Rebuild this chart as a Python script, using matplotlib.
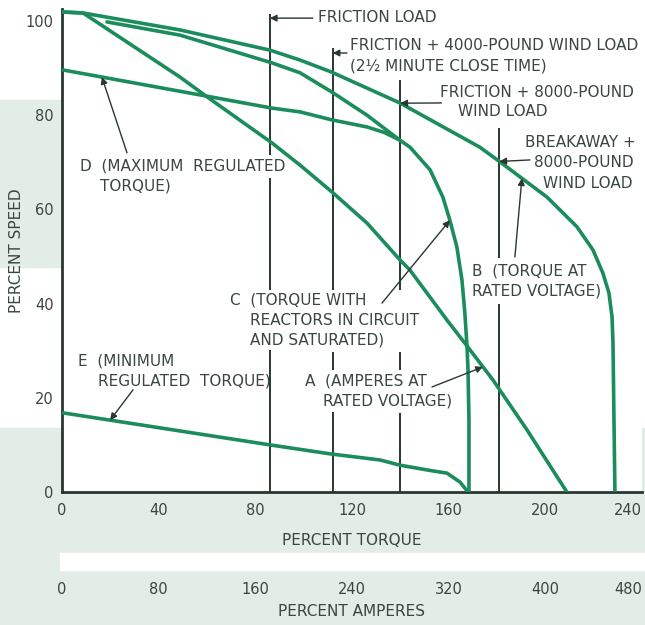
import numpy as np
import matplotlib
matplotlib.use("Agg")
import matplotlib.pyplot as plt
from matplotlib.patches import Rectangle

# speed-torque curves, percent torque vs percent speed
b_torque = [0.4, 8.7, 48.8, 86.1, 98.5, 111.3, 139.8, 172.9, 181.2, 200.7,
            213.1, 219.7, 223.8, 226.3, 227.6, 228.0, 228.4, 228.8]
b_speed = [101.9, 101.7, 98.1, 93.8, 91.7, 89.2, 82.6, 73.2, 70.1, 62.6,
           56.3, 51.4, 46.5, 42.3, 37.2, 31.6, 15.3, 0.0]

c_torque = [18.6, 48.8, 86.9, 98.5, 111.7, 126.2, 139.8, 144.0, 152.3, 157.6, 160.5,
            163.4, 165.5, 166.7, 167.6, 168.0, 168.4, 168.4]
c_speed = [99.8, 97.0, 91.1, 89.0, 84.9, 80.0, 74.7, 73.2, 68.4, 62.6, 57.7,
           52.0, 45.0, 38.0, 30.8, 25.9, 15.3, 0.0]

d_torque = [0.4, 57.1, 86.9, 98.5, 111.7, 126.2, 133.5, 139.8]
d_speed = [89.6, 84.3, 81.5, 80.7, 79.0, 77.5, 76.3, 74.7]

a_torque = [0.4, 8.7, 48.8, 60.0, 86.9, 98.5, 111.7, 126.2, 139.8, 144.0,
            159.3, 167.6, 178.3, 192.4, 208.9]
a_speed = [101.9, 101.7, 88.1, 83.9, 74.1, 69.4, 63.7, 57.1, 49.3, 47.1,
           36.5, 31.0, 23.8, 13.2, 0.0]

e_torque = [0.4, 86.1, 110.9, 131.6, 139.8, 152.0, 159.3, 164.7, 168.0]
e_speed = [16.8, 10.0, 8.1, 6.8, 5.7, 4.6, 4.0, 2.1, 0.0]

# load lines (percent torque)
friction = 86
wind_4000 = 112
wind_8000 = 140
breakaway = 181

torque_ticks = [0, 40, 80, 120, 160, 200, 240]
amp_ticks = [0, 80, 160, 240, 320, 400, 480]
speed_ticks = [0, 20, 40, 60, 80, 100]

green = "#1b8c5b"
dark = "#29372f"
ink = "#3a4640"
tint = "#e3ede7"

fig = plt.figure(figsize=(6.45, 6.25), dpi=100)
fig.patch.set_facecolor("white")

# shaded paper behind the chart
for x0, y0, w, h, c in [(0, 0.573, 0.093, 0.267, tint),
                        (0, 0, 1, 0.315, tint),
                        (0.093, 0.088, 0.907, 0.027, "white")]:
    fig.patches.append(Rectangle((x0, y0), w, h, transform=fig.transFigure,
                                 color=c, zorder=-10))

ax = fig.add_axes([62 / 645, 133 / 625, 580 / 645, 482.8 / 625])
ax.set_facecolor("white")
ax.set_xlim(0, 240)
ax.set_ylim(0, 102.5)

# vertical load lines, broken where the labels sit
load_segments = {
    friction: [(0, 30.1), (42.9, 66.7), (71.5, 101.5)],
    wind_4000: [(0, 17.0), (25.9, 29.7), (42.9, 94.3)],
    wind_8000: [(0, 16.8), (25.9, 29.7), (42.9, 87.5)],
    breakaway: [(0, 39.9), (49.7, 77.3)],
}
for x, segs in load_segments.items():
    for y0, y1 in segs:
        ax.plot([x, x], [y0, y1], color=dark, lw=1.4, solid_capstyle="butt", zorder=2)

for xs, ys in [(b_torque, b_speed), (c_torque, c_speed), (d_torque, d_speed),
               (a_torque, a_speed), (e_torque, e_speed)]:
    ax.plot(xs, ys, color=green, lw=2.6, solid_capstyle="round",
            solid_joinstyle="round", zorder=3)

txt = dict(color=ink, fontsize=11, va="center", zorder=5)
labels = [
    (105.9, 100.8, "FRICTION LOAD", "left"),
    (119.2, 94.7, "FRICTION + 4000-POUND WIND LOAD", "left"),
    (119.2, 90.4, "(2½ MINUTE CLOSE TIME)", "left"),
    (156.4, 84.9, "FRICTION + 8000-POUND", "left"),
    (163.8, 80.7, "WIND LOAD", "left"),
    (237.5, 74.3, "BREAKAWAY +", "right"),
    (236.7, 69.9, "8000-POUND", "right"),
    (236.2, 65.6, "WIND LOAD", "right"),
    (169.6, 46.9, "B  (TORQUE AT", "left"),
    (169.6, 42.7, "RATED VOLTAGE)", "left"),
    (69.5, 40.8, "C  (TORQUE WITH", "left"),
    (77.8, 36.5, "REACTORS IN CIRCUIT", "left"),
    (77.8, 32.3, "AND SATURATED)", "left"),
    (100.5, 23.6, "A  (AMPERES AT", "left"),
    (108.0, 19.3, "RATED VOLTAGE)", "left"),
    (7.4, 69.2, "D  (MAXIMUM  REGULATED", "left"),
    (15.7, 65.0, "TORQUE)", "left"),
    (6.6, 27.8, "E  (MINIMUM", "left"),
    (14.9, 23.6, "REGULATED  TORQUE)", "left"),
]
for x, y, s, ha in labels:
    ax.text(x, y, s, ha=ha, **txt)


def arrow(tail, head):
    ax.annotate("", xy=head, xytext=tail,
                arrowprops=dict(arrowstyle="-|>", color=dark, lw=1.0,
                                mutation_scale=10, shrinkA=0, shrinkB=0),
                zorder=4)


arrow((103.8, 100.6), (friction, 100.6))
arrow((117.9, 93.2), (wind_4000, 93.2))
arrow((157.0, 82.6), (wind_8000, np.interp(wind_8000, b_torque, b_speed)))
arrow((193.6, 70.5), (breakaway, np.interp(breakaway, b_torque, b_speed)))
arrow((187.4, 49.9), (190.3, np.interp(190.3, b_torque, b_speed)))
arrow((132.4, 40.1), (160.5, np.interp(160.5, c_torque, c_speed)))
arrow((153.1, 22.3), (174.2, np.interp(174.2, a_torque, a_speed)))
arrow((26.9, 72.0), (16.5, np.interp(16.5, d_torque, d_speed)))
arrow((29.4, 21.7), (19.9, np.interp(19.9, e_torque, e_speed)))

# axes frame and ticks
for side in ["top", "right"]:
    ax.spines[side].set_visible(False)
for side in ["left", "bottom"]:
    ax.spines[side].set_color(dark)
    ax.spines[side].set_linewidth(2.0)

ax.set_xticks(torque_ticks)
ax.set_xticklabels([str(t) for t in torque_ticks])
ax.set_yticks(speed_ticks)
ax.set_yticklabels([str(t) for t in speed_ticks])
ax.set_xticks(torque_ticks[1:], minor=True)
ax.set_yticks(speed_ticks[1:-1], minor=True)
ax.tick_params(which="major", length=0, labelsize=10.5, labelcolor=ink)
ax.tick_params(axis="x", which="major", pad=8)
ax.tick_params(axis="y", which="major", pad=6)
ax.tick_params(which="minor", direction="in", color=dark, width=1.5)
ax.tick_params(axis="x", which="minor", length=9.5)
ax.tick_params(axis="y", which="minor", length=12)
ax.get_xticklabels()[-1].set_ha("right")

ax.set_xlabel("PERCENT TORQUE", fontsize=11, color=ink, labelpad=11)
ax.set_ylabel("PERCENT SPEED", fontsize=11, color=ink, labelpad=1)

sec = ax.secondary_xaxis(-0.178, functions=(lambda t: t * 2, lambda a: a / 2))
sec.set_xticks(amp_ticks)
sec.set_xticklabels([str(a) for a in amp_ticks])
sec.spines["bottom"].set_visible(False)
sec.tick_params(length=0, labelsize=10.5, labelcolor=ink, pad=3)
sec.get_xticklabels()[-1].set_ha("right")
sec.set_xlabel("PERCENT AMPERES", fontsize=11, color=ink, labelpad=5)

fig.savefig("out.png", dpi=100)
